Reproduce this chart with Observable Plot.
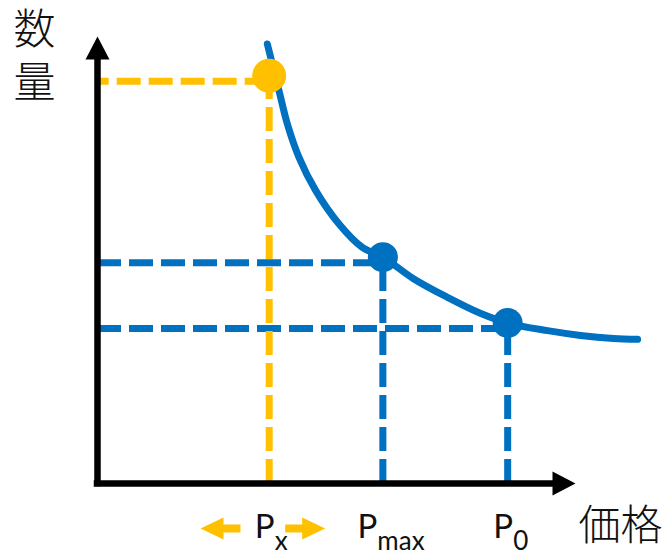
<!DOCTYPE html>
<html>
<head>
<meta charset="utf-8">
<script src="https://cdn.jsdelivr.net/npm/d3@7"></script>
<script src="https://cdn.jsdelivr.net/npm/@observablehq/plot@0.6"></script>
<style>
  html, body { margin: 0; padding: 0; background: #fff; }
  #chart svg { display: block; }
</style>
</head>
<body>
<div id="chart"></div>
<script>
// ---- data (abstract price / quantity units) ----
const curvePrice    = [36.6, 39.1, 40.9, 43.4, 47.0, 52.0, 57.0, 61.6, 68.1, 75.4, 82.5, 88.6, 97.0, 104.1, 111.2, 116.4];
const curveQuantity = [101.5, 90.8, 83.1, 75.4, 67.7, 60.0, 54.6, 52.2, 47.3, 43.0, 39.3, 37.0, 35.3, 34.2, 33.5, 33.3];
const pointPrice    = [37, 61.5, 88.4];
const pointQuantity = [92.9, 51.0, 35.8];
const pointSub      = ["x", "max", "0"];
const pointColor    = ["#FFC000", "#0070C0", "#0070C0"];
const yLabel = "数量";
const xLabel = "価格";
const axisEnd = 100;

const curve = curvePrice.map((p, i) => ({p, q: curveQuantity[i]}));
const pts = pointPrice.map((p, i) => ({p, q: pointQuantity[i], sub: pointSub[i], color: pointColor[i], i}));

// ---- custom symbols ----
function arrowHead(dir) {
  return {draw(ctx, size) {
    const s = Math.sqrt(size / Math.PI) / 10;
    const raw = [[0, -14], [12, 9], [-12, 9]];
    const P = raw.map(([a, b]) => dir === "up" ? [a * s, b * s] : [-b * s, a * s]);
    ctx.moveTo(P[0][0], P[0][1]);
    for (let k = 1; k < P.length; k++) ctx.lineTo(P[k][0], P[k][1]);
    ctx.closePath();
  }};
}
function blockArrow(dir) {
  return {draw(ctx, size) {
    const s = Math.sqrt(size / Math.PI) / 10;
    const sign = dir === "left" ? 1 : -1;
    const raw = [[-20, 0], [3, -11], [3, -4], [20, -4], [20, 4], [3, 4], [3, 11]];
    const P = raw.map(([a, b]) => [sign * a * s, b * s]);
    ctx.moveTo(P[0][0], P[0][1]);
    for (let k = 1; k < P.length; k++) ctx.lineTo(P[k][0], P[k][1]);
    ctx.closePath();
  }};
}

const latin = "Lato, 'Open Sans', sans-serif";
const cjk = "'Noto Sans CJK JP', 'Noto Sans CJK SC', sans-serif";

const labelMarks = pts.flatMap((d) => {
  const shift = 5.5 - 5.5 * (d.sub.length - 1);
  return [
    Plot.text([d], {x: "p", text: () => "P", frameAnchor: "bottom", textAnchor: "end", lineAnchor: "bottom",
      dx: shift, dy: 54, fontSize: 33, fontFamily: latin, fill: "#111"}),
    Plot.text([d], {x: "p", text: "sub", frameAnchor: "bottom", textAnchor: "start", lineAnchor: "bottom",
      dx: shift, dy: 66, fontSize: 26, fontFamily: latin, fill: "#111"})
  ];
});

const chart = Plot.plot({
  width: 669,
  height: 553,
  marginLeft: 97,
  marginRight: 108,
  marginTop: 50,
  marginBottom: 70,
  x: {domain: [0, axisEnd], axis: null},
  y: {domain: [0, axisEnd], axis: null},
  color: {type: "identity"},
  style: {background: "#fff"},
  marks: [
    // dashed guide lines
    Plot.ruleY(pts, {y: "q", x1: d => d.i === 0 ? d.p : 0, x2: d => d.i === 0 ? 0 : d.p,
      stroke: "color", strokeWidth: 7, strokeDasharray: "24,8", dy: 0}),
    Plot.ruleX(pts, {x: "p", y1: 0, y2: "q", stroke: "color", strokeWidth: 7, strokeDasharray: "24,8"}),
    // axes
    Plot.ruleX([0], {x: d => d, y1: 0, y2: axisEnd, stroke: "#000", strokeWidth: 6.5, strokeLinecap: "square"}),
    Plot.ruleY([0], {y: d => d, x1: 0, x2: axisEnd, stroke: "#000", strokeWidth: 6.5, strokeLinecap: "square"}),
    Plot.dot([{x: 0, y: axisEnd}], {x: "x", y: "y", symbol: arrowHead("up"), r: 10, fill: "#000", stroke: "none"}),
    Plot.dot([{x: axisEnd, y: 0}], {x: "x", y: "y", symbol: arrowHead("right"), r: 10, fill: "#000", stroke: "none"}),
    // demand curve
    Plot.line(curve, {x: "p", y: "q", stroke: "#0070C0", strokeWidth: 7, curve: "catmull-rom"}),
    // points
    Plot.dot(pts.filter(d => d.i === 0), {x: "p", y: "q", r: 17, fill: "color", stroke: "none", dy: -5.5}),
    Plot.dot(pts.filter(d => d.i !== 0), {x: "p", y: "q", r: 15, fill: "color", stroke: "none", dy: -5.5}),
    // orange arrows around P_x
    Plot.dot(pts.filter(d => d.i === 0), {x: "p", frameAnchor: "bottom", dx: -48.7, dy: 45,
      symbol: blockArrow("left"), r: 10, fill: "#FFC000", stroke: "none"}),
    Plot.dot(pts.filter(d => d.i === 0), {x: "p", frameAnchor: "bottom", dx: 36, dy: 45,
      symbol: blockArrow("right"), r: 10, fill: "#FFC000", stroke: "none"}),
    // tick labels
    ...labelMarks,
    // axis labels
    Plot.text([yLabel], {frameAnchor: "top-left", text: d => Array.from(d).join("\n"),
      dx: -63, dy: 3.5, textAnchor: "middle", lineAnchor: "middle", lineHeight: 1.26,
      fontSize: 42, fontFamily: cjk, fontWeight: 300, fill: "#111"}),
    Plot.text([xLabel], {frameAnchor: "bottom-right", text: d => d, textAnchor: "start", lineAnchor: "bottom",
      dx: 17, dy: 56, fontSize: 42, fontFamily: cjk, fontWeight: 300, fill: "#111"})
  ]
});
document.getElementById("chart").appendChild(chart);
</script>
</body>
</html>
